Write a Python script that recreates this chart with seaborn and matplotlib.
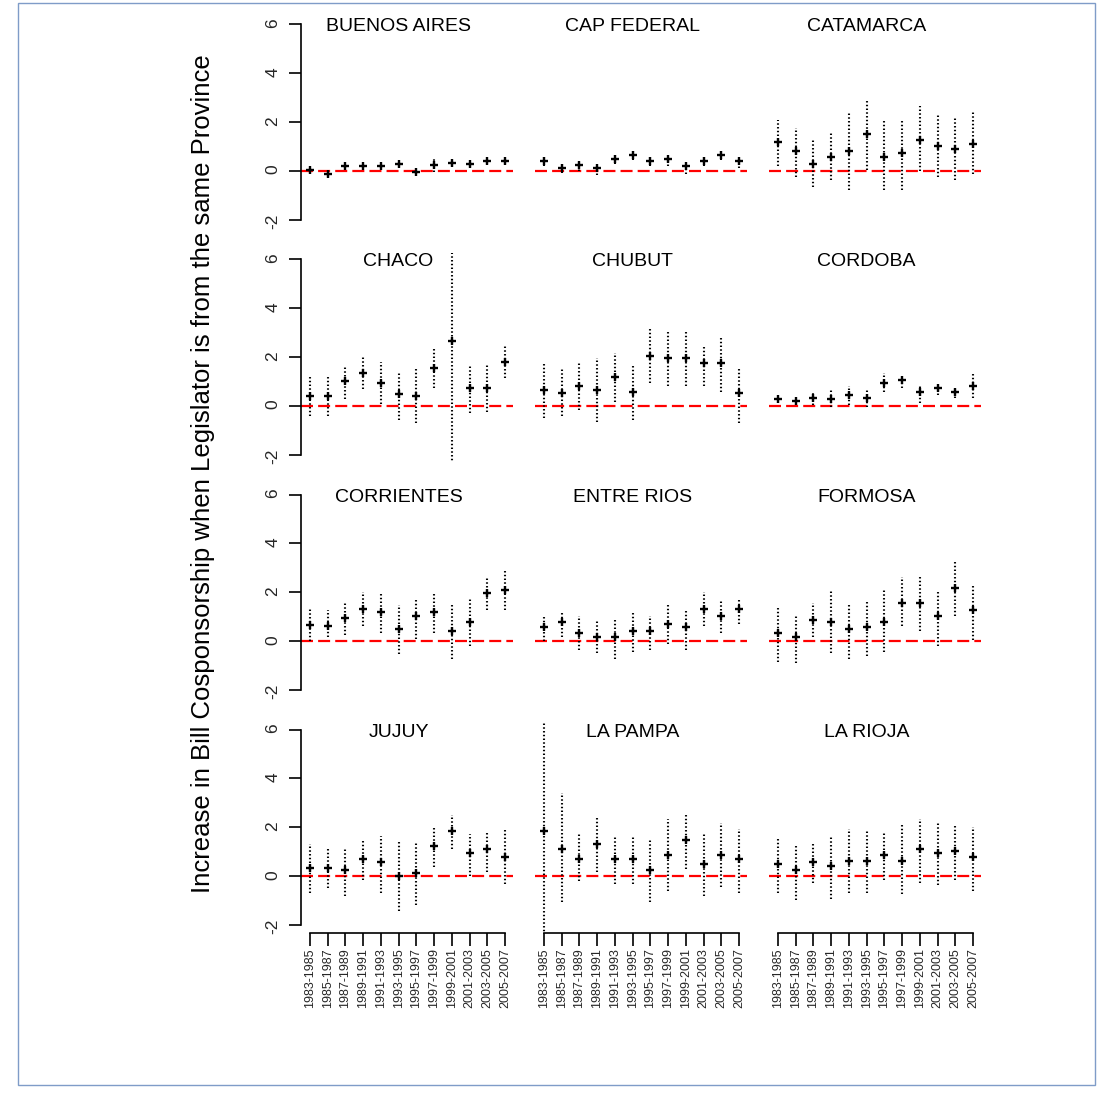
import numpy as np
import pandas as pd
import matplotlib
matplotlib.use("Agg")
import matplotlib.pyplot as plt
import seaborn as sns
from matplotlib.patches import Rectangle

provinces = ["BUENOS AIRES", "CAP FEDERAL", "CATAMARCA",
             "CHACO", "CHUBUT", "CORDOBA",
             "CORRIENTES", "ENTRE RIOS", "FORMOSA",
             "JUJUY", "LA PAMPA", "LA RIOJA"]

periods = ["1983-1985", "1985-1987", "1987-1989", "1989-1991", "1991-1993",
           "1993-1995", "1995-1997", "1997-1999", "1999-2001", "2001-2003",
           "2003-2005", "2005-2007"]

estimate = [
    [0.03, -0.14, 0.19, 0.19, 0.19, 0.26, -0.05, 0.23, 0.32, 0.26, 0.40, 0.40],
    [0.41, 0.12, 0.25, 0.11, 0.49, 0.66, 0.41, 0.49, 0.19, 0.41, 0.66, 0.41],
    [1.18, 0.81, 0.30, 0.57, 0.81, 1.50, 0.57, 0.74, 1.27, 1.01, 0.89, 1.09],
    [0.41, 0.41, 1.03, 1.35, 0.94, 0.48, 0.41, 1.56, 2.66, 0.74, 0.74, 1.81],
    [0.64, 0.51, 0.81, 0.64, 1.19, 0.58, 2.04, 1.97, 1.97, 1.74, 1.74, 0.51],
    [0.26, 0.20, 0.34, 0.26, 0.44, 0.34, 0.94, 1.05, 0.58, 0.74, 0.58, 0.81],
    [0.68, 0.63, 0.94, 1.33, 1.19, 0.48, 1.02, 1.19, 0.40, 0.77, 1.97, 2.08],
    [0.57, 0.78, 0.33, 0.16, 0.16, 0.41, 0.41, 0.71, 0.57, 1.33, 1.02, 1.33],
    [0.33, 0.16, 0.85, 0.78, 0.49, 0.57, 0.78, 1.56, 1.56, 1.02, 2.17, 1.26],
    [0.34, 0.34, 0.25, 0.71, 0.57, 0.00, 0.11, 1.24, 1.84, 0.96, 1.12, 0.79],
    [1.86, 1.12, 0.71, 1.31, 0.71, 0.71, 0.25, 0.86, 1.48, 0.49, 0.86, 0.70],
    [0.49, 0.25, 0.57, 0.42, 0.63, 0.63, 0.86, 0.63, 1.11, 0.96, 1.04, 0.79],
]

ci_low = [
    [-0.07, -0.24, 0.10, 0.10, 0.10, 0.16, -0.14, -0.05, 0.20, 0.17, 0.30, 0.30],
    [0.19, -0.07, 0.00, -0.15, 0.27, 0.45, 0.19, 0.19, -0.11, 0.19, 0.45, 0.12],
    [0.20, -0.24, -0.68, -0.38, -0.79, 0.03, -0.79, -0.79, 0.00, -0.24, -0.38, -0.11],
    [-0.42, -0.42, 0.26, 0.67, 0.07, -0.59, -0.72, 0.75, -2.40, -0.31, -0.24, 1.15],
    [-0.48, -0.41, -0.18, -0.65, 0.17, -0.59, 0.94, 0.81, 0.81, 0.81, 0.58, -0.70],
    [0.12, 0.04, 0.03, -0.05, 0.03, -0.05, 0.58, 0.74, 0.12, 0.44, 0.31, 0.34],
    [0.00, 0.19, 0.27, 0.64, 0.33, -0.52, 0.10, 0.33, -0.72, -0.20, 1.29, 1.29],
    [0.00, 0.19, -0.35, -0.49, -0.72, -0.45, -0.35, -0.11, -0.35, 0.64, 0.33, 0.71],
    [-0.86, -0.90, 0.19, -0.49, -0.72, -0.59, -0.45, 0.64, 0.41, -0.18, 1.02, 0.03],
    [-0.67, -0.50, -0.82, -0.16, -0.67, -1.42, -1.19, 0.36, 1.13, 0.00, 0.18, -0.33],
    [-2.40, -1.05, -0.19, 0.15, -0.33, -0.33, -1.05, -0.60, 0.29, -0.82, -0.44, -0.67],
    [-0.71, -0.98, -0.27, -0.95, -0.67, -0.71, -0.16, -0.74, -0.27, -0.37, -0.16, -0.60],
]

ci_high = [
    [0.13, -0.04, 0.28, 0.28, 0.28, 0.36, 0.04, 0.55, 0.45, 0.35, 0.50, 0.50],
    [0.64, 0.29, 0.40, 0.30, 0.72, 0.88, 0.64, 0.64, 0.33, 0.64, 0.88, 0.57],
    [2.10, 1.74, 1.26, 1.56, 2.42, 2.95, 2.10, 2.10, 2.65, 2.32, 2.19, 2.42],
    [1.26, 1.26, 1.63, 2.01, 1.81, 1.39, 1.56, 2.39, 6.25, 1.63, 1.70, 2.45],
    [1.76, 1.56, 1.76, 1.94, 2.17, 1.70, 3.24, 3.10, 3.10, 2.49, 2.86, 1.56],
    [0.40, 0.30, 0.51, 0.64, 0.81, 0.64, 1.33, 1.19, 0.85, 0.85, 0.72, 1.37],
    [1.33, 1.26, 1.60, 2.01, 2.01, 1.46, 1.78, 2.01, 1.56, 1.78, 2.62, 2.93],
    [1.09, 1.23, 1.01, 0.85, 0.92, 1.23, 1.01, 1.53, 1.33, 2.01, 1.70, 1.78],
    [1.40, 1.08, 1.56, 2.08, 1.53, 1.70, 2.15, 2.62, 2.69, 2.08, 3.33, 2.32],
    [1.31, 1.16, 1.16, 1.48, 1.64, 1.48, 1.41, 2.02, 2.50, 1.72, 1.86, 1.95],
    [6.27, 3.39, 1.78, 2.47, 1.61, 1.61, 1.54, 2.32, 2.54, 1.78, 2.16, 1.94],
    [1.54, 1.31, 1.41, 1.64, 1.95, 1.86, 1.78, 2.16, 2.32, 2.23, 2.08, 2.02],
]

y_label = "Increase in Bill Cosponsorship when Legislator is from the same Province"

records = []
for p_i, prov in enumerate(provinces):
    for t_i, per in enumerate(periods):
        records.append({"province": prov, "period": per, "pos": t_i + 1,
                        "est": estimate[p_i][t_i], "lo": ci_low[p_i][t_i],
                        "hi": ci_high[p_i][t_i]})
df = pd.DataFrame(records)

sns.set_style("white")
plt.rcParams['font.family'] = ['Liberation Sans', 'DejaVu Sans']

W = H = 1103
fig = plt.figure(figsize=(W / 100, H / 100), dpi=100)
fig.patch.set_facecolor("white")

col_left = [301, 535, 769]
row_top = [16.5, 251.5, 486.8, 721.8]
pw, ph = 212, 211

for i, prov in enumerate(provinces):
    r, c = divmod(i, 3)
    ax = fig.add_axes([col_left[c] / W, 1 - (row_top[r] + ph) / H, pw / W, ph / H])
    ax.set_facecolor("white")
    d = df[df.province == prov]
    ax.axhline(0, color="red", lw=1.6, dashes=(5.4, 2.3), zorder=1)
    ax.vlines(d["pos"], d["lo"], d["hi"], colors="black", linewidth=1.5,
              linestyles=[(0, (0.7, 1.1))], zorder=2)
    sns.scatterplot(data=d, x="pos", y="est", marker="+", color="black", s=34,
                    linewidth=1.7, ax=ax, zorder=3, legend=False)
    ax.set_xlim(0.5, 12.45)
    ax.set_ylim(-2.32, 6.32)
    ax.text(6, 5.9, prov, ha="center", va="center", fontsize=14, color="black")
    ax.set_xlabel("")
    ax.set_ylabel("")
    for s in ["top", "right"]:
        ax.spines[s].set_visible(False)
    for s in ["left", "bottom"]:
        ax.spines[s].set_color("black")
        ax.spines[s].set_linewidth(1.2)
    if c == 0:
        ax.spines["left"].set_bounds(-2, 6)
        ax.set_yticks([-2, 0, 2, 4, 6])
        ax.set_yticklabels(["-2", "0", "2", "4", "6"])
        ax.tick_params(axis="y", left=True, length=9, width=1.2, pad=6,
                       labelsize=12.5, labelrotation=90, color="black")
    else:
        ax.spines["left"].set_visible(False)
        ax.set_yticks([])
    if r == 3:
        ax.spines["bottom"].set_bounds(1, 12)
        ax.set_xticks(range(1, 13))
        ax.set_xticklabels(periods, rotation=90, fontsize=9)
        ax.tick_params(axis="x", bottom=True, length=9, width=1.2, pad=2, color="black")
    else:
        ax.spines["bottom"].set_visible(False)
        ax.set_xticks([])

fig.text(203 / W, 1 - 474 / H, y_label, rotation=90, ha="center", va="center",
         fontsize=18.5, color="black")

fig.patches.append(Rectangle((18 / W, 1 - 1085 / H), (1095 - 18) / W, (1085 - 3) / H,
                             transform=fig.transFigure, fill=False,
                             edgecolor="#7f9cc8", lw=1.0))

fig.savefig("out.png", dpi=100)
